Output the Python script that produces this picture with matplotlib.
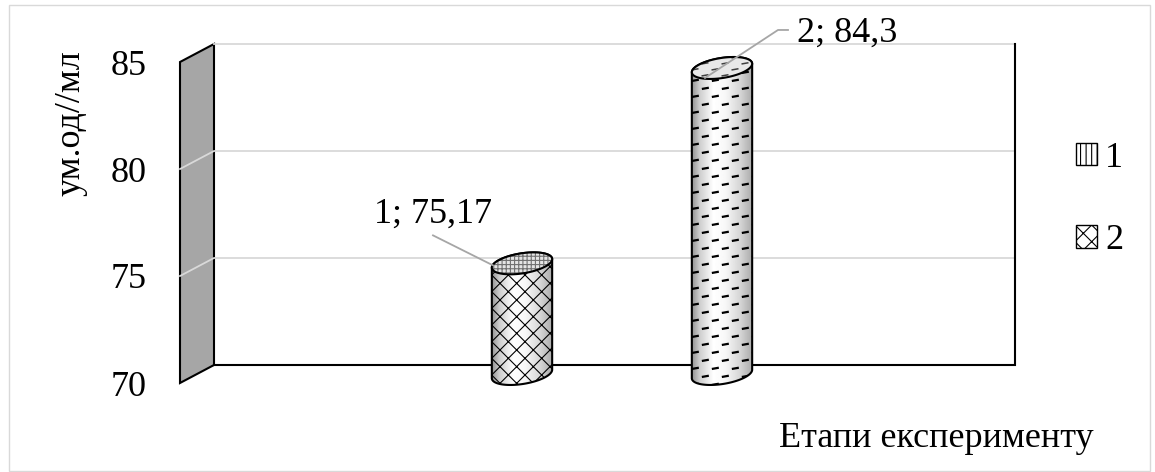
import numpy as np
import matplotlib
matplotlib.use("Agg")
import matplotlib.pyplot as plt
from matplotlib.patches import Polygon, Rectangle, Patch
from matplotlib.collections import LineCollection
from matplotlib.lines import Line2D
from matplotlib.image import BboxImage
from matplotlib.transforms import Bbox, IdentityTransform

plt.rcParams["font.family"] = ["Liberation Serif", "DejaVu Serif"]
plt.rcParams["hatch.linewidth"] = 0.8

# ---- data -------------------------------------------------------------
series = ["1", "2"]
values = [75.17, 84.3]
positions = [0, 1]
y_ticks = [70, 75, 80, 85]
y_label = "ум.од//мл"
x_label = "Етапи експерименту"

# ---- figure / front plane of the 3-D box ------------------------------
W, H = 1155, 472
fig = plt.figure(figsize=(W / 100, H / 100), dpi=100)
fx0, fx1, fy_bot, fy_top = 180, 981, 383, 62          # pixel frame of the front plane
ax = fig.add_axes([fx0 / W, 1 - fy_bot / H, (fx1 - fx0) / W, (fy_bot - fy_top) / H])
ax.set_xlim(-1.625, 2.38)
ax.set_ylim(y_ticks[0], y_ticks[-1])
ax.set_autoscale_on(False)
ax.patch.set_visible(False)
ax.set_zorder(5)
for s in ax.spines.values():
    s.set_visible(False)
ax.set_xticks([])
ax.set_yticks(y_ticks)
ax.tick_params(axis="y", length=0, pad=24, labelsize=26)
ax.set_ylabel(y_label, fontsize=26)
ax.yaxis.set_label_coords(-0.116, 0.81)

ID = IdentityTransform()
STEP = np.array([17.0, 9.0])      # display offset of one depth step (front -> mid -> back)
x_left, x_right = ax.get_xlim()
v_lo, v_hi = ax.get_ylim()


def P(x, v, d):
    """Display coordinates of (category x, value v) at depth d (0 front, 1 middle, 2 back)."""
    return ax.transData.transform((x, v)) + d * STEP


def add(artist, z):
    artist.set_zorder(z)
    fig.add_artist(artist)
    return artist


# outer frame
add(Rectangle((8.5, 1.5), 1141, 465.5, transform=ID, facecolor="none",
              edgecolor="#d9d9d9", linewidth=1.0), 0.5)

# left side wall
wall = np.array([P(x_left, v_lo, 0), P(x_left, v_hi, 0), P(x_left, v_hi, 2), P(x_left, v_lo, 2)])
add(Polygon(wall, closed=True, transform=ID, facecolor="#a6a6a6",
            edgecolor="black", linewidth=1.5), 1)

# gridlines on the side wall and back wall
for v in y_ticks[1:]:
    pts = np.array([P(x_left, v, 0), P(x_left, v, 2), P(x_right, v, 2)])
    if v == y_ticks[-1]:
        pts = pts[1:]
    add(Line2D(pts[:, 0], pts[:, 1], transform=ID, color="#d9d9d9", linewidth=1.3), 1.2)

# floor edge and right edge of the back wall
edge = np.array([P(x_left, v_lo, 2), P(x_right, v_lo, 2), P(x_right, v_hi, 2)])
add(Line2D(edge[:, 0], edge[:, 1], transform=ID, color="black", linewidth=1.5,
           solid_joinstyle="miter"), 1.3)

# ---- cylinders ---------------------------------------------------------
RA, RB, TILT = 30.5, 10.0, np.deg2rad(9)
tR = np.arctan2(-RB * np.sin(TILT), RA * np.cos(TILT))


def ellipse_pts(c, t):
    x = c[0] + RA * np.cos(t) * np.cos(TILT) - RB * np.sin(t) * np.sin(TILT)
    y = c[1] + RA * np.cos(t) * np.sin(TILT) + RB * np.sin(t) * np.cos(TILT)
    return np.column_stack([x, y])


def dash_segments(x0, x1, y0, y1, row=8.0, period=20.0, length=7.0, slope=0.18):
    segs = []
    for i, y in enumerate(np.arange(y0, y1 + row, row)):
        off = (period / 2) * (i % 2)
        for x in np.arange(x0 - period + off, x1 + period, period):
            segs.append([(x, y), (x + length, y + length * slope)])
    return segs


shade_pos = [0.0, 0.12, 0.35, 0.55, 0.8, 1.0]
shade_val = [0.58, 0.80, 1.0, 0.97, 0.83, 0.66]
styles = ["cross", "dash"]

for pos, v, style in zip(positions, values, styles):
    bot = P(pos, v_lo, 1)
    top = P(pos, v, 1)
    t_low = np.linspace(tR + np.pi, tR + 2 * np.pi, 120)
    t_up = np.linspace(tR, tR + np.pi, 120)
    body = np.vstack([ellipse_pts(bot, t_low), ellipse_pts(top, t_up)])
    body_patch = Polygon(body, closed=True, transform=ID)

    # cylindrical shading
    xmin, ymin = body.min(axis=0)
    xmax, ymax = body.max(axis=0)
    grad = np.interp(np.linspace(0, 1, 256), shade_pos, shade_val)[None, :]
    im = BboxImage(Bbox.from_extents(xmin, ymin, xmax, ymax), cmap="gray",
                   interpolation="bilinear")
    im.set_data(grad)
    im.set_clim(0, 1)
    add(im, 2)
    im.set_clip_path(body_patch)

    ell_full = ellipse_pts(top, np.linspace(0, 2 * np.pi, 200))
    top_fill = Polygon(ell_full, closed=True, transform=ID)

    if style == "cross":
        add(Polygon(body, closed=True, transform=ID, facecolor="none",
                    edgecolor="black", linewidth=0, hatch="xx"), 2.1)
        add(Polygon(ell_full, closed=True, transform=ID, facecolor="#e4e4e4",
                    edgecolor="#707070", linewidth=0, hatch="++++"), 2.3)
    else:
        lc = LineCollection(dash_segments(xmin, xmax, ymin, ymax), colors="black",
                            linewidths=1.6, transform=ID)
        add(lc, 2.1)
        lc.set_clip_path(body_patch)
        add(Polygon(ell_full, closed=True, transform=ID, facecolor="#e8e8e8",
                    edgecolor="none", linewidth=0), 2.3)
        lc2 = LineCollection(dash_segments(top[0] - RA, top[0] + RA, top[1] - RB - 4,
                                           top[1] + RB + 4, row=6.0), colors="#404040",
                             linewidths=1.1, transform=ID)
        add(lc2, 2.35)
        lc2.set_clip_path(top_fill)

    add(Polygon(body, closed=True, transform=ID, facecolor="none",
                edgecolor="black", linewidth=1.5), 2.2)
    add(Polygon(ell_full, closed=True, transform=ID, facecolor="none",
                edgecolor="black", linewidth=1.5), 2.4)

# ---- data labels with leader lines -------------------------------------
label_offsets = [(-89, 41), (125, 26)]
leader_paths = [[(-89, 28), (-29, -2)], [(66, 38), (56, 38), (-17, -10)]]
for pos, name, v, (dx, dy), path in zip(positions, series, values, label_offsets, leader_paths):
    top = P(pos, v, 1)
    text = f"{name}; {v:g}".replace(".", ",")
    fig.text((top[0] + dx) / W, (top[1] + dy) / H, text, fontsize=26,
             ha="center", va="baseline", zorder=4)
    pts = top + np.array(path, dtype=float)
    add(Line2D(pts[:, 0], pts[:, 1], transform=ID, color="#a6a6a6", linewidth=1.3), 3)

# ---- axis title and legend ----------------------------------------------
fig.text(936 / W, 1 - 447 / H, x_label, fontsize=26, ha="center", va="baseline")

handles = [Patch(facecolor="white", edgecolor="black", hatch="|||", linewidth=1.0),
           Patch(facecolor="white", edgecolor="black", hatch="xx", linewidth=1.0)]
fig.legend(handles, series, loc="upper left", bbox_to_anchor=(1076 / W, 1 - 142 / H),
           frameon=False, fontsize=26, handlelength=0.58, handleheight=0.58,
           handletextpad=0.22, labelspacing=1.37, borderpad=0, borderaxespad=0)

fig.savefig("out.png", dpi=100)
